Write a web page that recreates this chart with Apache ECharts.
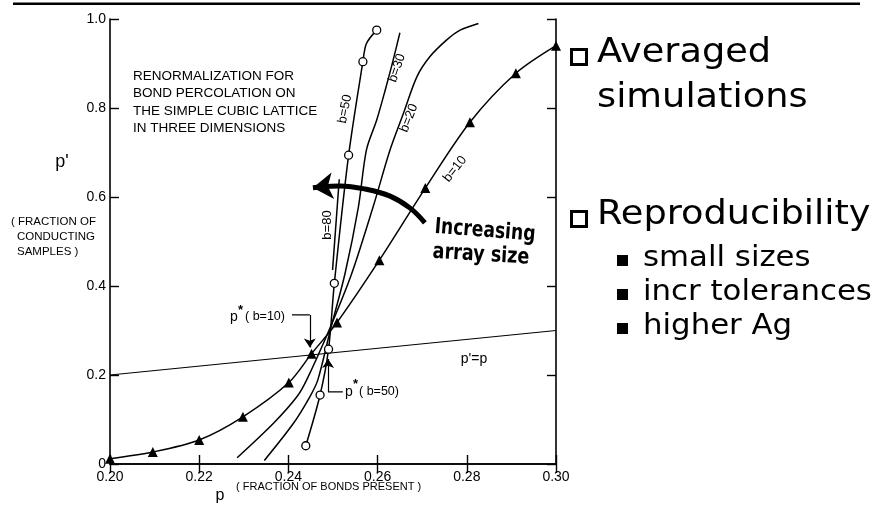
<!DOCTYPE html>
<html>
<head>
<meta charset="utf-8">
<script src="https://cdn.jsdelivr.net/npm/echarts@6/dist/echarts.min.js"></script>
<style>
  html, body { margin: 0; padding: 0; background: #fff; }
  #main { width: 883px; height: 506px; }
</style>
</head>
<body>
<div id="main"></div>
<script>
// values: [p, p']
var pEqualsP = [[0.20, 0.20], [0.30, 0.30]];
var b10 = [
  [0.200, 0.012], [0.2096, 0.027], [0.220, 0.054], [0.2298, 0.106],
  [0.2401, 0.183], [0.2452, 0.248], [0.2509, 0.318], [0.2604, 0.458],
  [0.2707, 0.620], [0.2807, 0.768], [0.2910, 0.878], [0.3000, 0.940]
];
var b50 = [
  [0.2439, 0.041], [0.2471, 0.155], [0.2490, 0.258], [0.2503, 0.406],
  [0.2535, 0.694], [0.2567, 0.904], [0.2575, 0.945], [0.2598, 0.975]
];
var b50Hidden = [6]; // bend point, no circle drawn
var b30 = [
  [0.2346, 0.008], [0.2411, 0.091], [0.2448, 0.151], [0.2466, 0.189],
  [0.2495, 0.305], [0.2527, 0.428], [0.2557, 0.578], [0.2575, 0.706],
  [0.2598, 0.773], [0.2617, 0.840], [0.2635, 0.908], [0.2650, 0.969]
];
var b20 = [
  [0.2285, 0.014], [0.2366, 0.091], [0.2419, 0.151], [0.2441, 0.189],
  [0.2493, 0.305], [0.2542, 0.428], [0.2590, 0.578], [0.2628, 0.706],
  [0.2658, 0.788], [0.2688, 0.870], [0.2717, 0.915], [0.2755, 0.953],
  [0.2785, 0.975], [0.2826, 0.990]
];
var b80 = [[0.2499, 0.436], [0.2514, 0.640]];

// annotation paths (data coords)
var sizeArrow = [[0.2706, 0.542], [0.2673, 0.575], [0.2628, 0.602], [0.2572, 0.618], [0.2516, 0.625], [0.2470, 0.6225]];
var sizeArrowTip = [0.2455, 0.621];
var leader10 = [[0.2408, 0.335], [0.2448, 0.335], [0.2448, 0.262]];
var leader50 = [[0.2522, 0.162], [0.2489, 0.162], [0.2489, 0.236]];

var xTicks = ['0.20', '0.22', '0.24', '0.26', '0.28', '0.30'];
var titleLines = ['RENORMALIZATION FOR', 'BOND PERCOLATION ON', 'THE SIMPLE CUBIC LATTICE', 'IN THREE DIMENSIONS'];
var yNameLines = ['( FRACTION OF', 'CONDUCTING', 'SAMPLES )'];
var subBullets = ['small sizes', 'incr tolerances', 'higher Ag'];

var chart = echarts.init(document.getElementById('main'));
var FONT = 'Liberation Sans, Arial, sans-serif';

function txt(x, y, text, size, o) {
  o = o || {};
  return {
    type: 'text', x: x, y: y, rotation: o.rot || 0, scaleX: o.sx || 1,
    style: {
      text: text, fontSize: size, fontFamily: o.family || FONT,
      fontWeight: o.weight || 'normal', fill: '#000',
      align: o.align || 'left', textAlign: o.align || 'left',
      verticalAlign: 'middle', textVerticalAlign: 'middle'
    }
  };
}

var graphics = [
  { type: 'rect', shape: { x: 13, y: 2.6, width: 847, height: 2.3 }, style: { fill: '#000' } },
  txt(62, 162, "p'", 18, { align: 'center' }),
  txt(220, 496, 'p', 16, { align: 'center' }),
  txt(236, 487, '( FRACTION OF BONDS PRESENT )', 11),
  txt(230, 317, 'p', 14),
  txt(238, 310, '*', 13, { weight: 'bold' }),
  txt(245, 317, '( b=10)', 12.5),
  txt(345, 392, 'p', 14),
  txt(353, 384, '*', 13, { weight: 'bold' }),
  txt(359, 392, '( b=50)', 12.5),
  txt(474, 359, "p'=p", 14, { align: 'center' }),
  txt(345, 109, 'b=50', 13, { align: 'center', rot: 1.38 }),
  txt(397, 68, 'b=30', 13, { align: 'center', rot: 1.24 }),
  txt(409, 118, 'b=20', 13, { align: 'center', rot: 1.2 }),
  txt(455, 169, 'b=10', 13, { align: 'center', rot: 0.9 }),
  txt(327, 225, 'b=80', 13, { align: 'center', rot: Math.PI / 2 }),
  txt(485, 231, 'Increasing', 22, { align: 'center', weight: 'bold', family: 'DejaVu Sans', sx: 0.78, rot: -0.08 }),
  txt(481, 255, 'array size', 22, { align: 'center', weight: 'bold', family: 'DejaVu Sans', sx: 0.8, rot: -0.06 }),
  // slide bullets
  { type: 'rect', shape: { x: 571.5, y: 49.5, width: 15, height: 15 }, style: { fill: 'none', stroke: '#000', lineWidth: 3 } },
  { type: 'rect', shape: { x: 571.5, y: 211.5, width: 15, height: 15 }, style: { fill: 'none', stroke: '#000', lineWidth: 3 } },
  txt(597, 53, 'Averaged', 34, { family: 'DejaVu Sans', sx: 1.08 }),
  txt(597, 98, 'simulations', 34, { family: 'DejaVu Sans', sx: 1.08 }),
  txt(597, 215, 'Reproducibility', 34, { family: 'DejaVu Sans', sx: 1.08 })
];
titleLines.forEach(function (t, i) { graphics.push(txt(133, 76 + i * 17.5, t, 13.5)); });
yNameLines.forEach(function (t, i) { graphics.push(txt(i === 0 ? 11 : 17, 222 + i * 15, t, 11.5)); });
subBullets.forEach(function (t, i) {
  graphics.push({ type: 'rect', shape: { x: 617, y: 255 + i * 34, width: 11, height: 11 }, style: { fill: '#000' } });
  graphics.push(txt(643, 259 + i * 34, t, 28, { family: 'DejaVu Sans', sx: 1.1 }));
});

var axisCommon = {
  axisLine: { lineStyle: { color: '#000', width: 1.6 } },
  axisTick: { inside: true, length: 9, lineStyle: { color: '#000', width: 1.4 } },
  splitLine: { show: false }
};

function curve(name, data, extra) {
  return Object.assign({
    name: name, type: 'line', data: data, smooth: 0.3, symbol: 'none',
    lineStyle: { color: '#000', width: 1.5 }, itemStyle: { color: '#000' },
    z: 3
  }, extra || {});
}

// straight segment with an arrow head at its end
function arrowSeg(from, to, width, size) {
  return {
    type: 'lines', coordinateSystem: 'cartesian2d',
    symbol: ['none', 'arrow'], symbolSize: size,
    lineStyle: { color: '#000', width: width, opacity: 1, curveness: 0 },
    data: [{ coords: [from, to] }], z: 4
  };
}

var option = {
  animation: false,
  backgroundColor: '#fff',
  grid: { left: 110, top: 19, width: 446, height: 445 },
  xAxis: [
    Object.assign({
      type: 'value', min: 0.2, max: 0.3, interval: 0.02, position: 'bottom',
      axisLabel: {
        color: '#000', fontSize: 14, fontFamily: FONT, margin: 6,
        formatter: function (v) { return xTicks[Math.round((v - 0.2) / 0.02)]; }
      }
    }, axisCommon),
    Object.assign({
      type: 'value', min: 0.2, max: 0.3, interval: 0.02, position: 'top',
      axisLabel: { show: false }
    }, axisCommon)
  ],
  yAxis: [
    Object.assign({
      type: 'value', min: 0, max: 1, interval: 0.2, position: 'left',
      axisLabel: {
        color: '#000', fontSize: 14, fontFamily: FONT, margin: 4,
        formatter: function (v) { return v === 0 ? '0' : v.toFixed(1); }
      }
    }, axisCommon),
    Object.assign({
      type: 'value', min: 0, max: 1, interval: 0.2, position: 'right',
      axisLabel: { show: false }
    }, axisCommon)
  ],
  series: [
    curve("p'=p", pEqualsP, { smooth: false, lineStyle: { color: '#000', width: 1.2 } }),
    curve('b=20', b20),
    curve('b=30', b30),
    curve('b=80', b80, { smooth: false }),
    curve('b=10', b10, { symbol: 'triangle', symbolSize: 10, showAllSymbol: true, clip: false, z: 5 }),
    curve('b=50', b50.map(function (d, i) {
      return b50Hidden.indexOf(i) >= 0 ? { value: d, symbol: 'none' } : d;
    }), {
      symbol: 'circle', symbolSize: 8, showAllSymbol: true, z: 5,
      itemStyle: { color: '#fff', borderColor: '#000', borderWidth: 1.3 }
    }),
    // "increasing array size" arrow body and head
    curve('arrow', sizeArrow, { smooth: 0.4, lineStyle: { color: '#000', width: 5 }, z: 4 }),
    arrowSeg(sizeArrow[sizeArrow.length - 1], sizeArrowTip, 5, [0, 20]),
    // p* leaders
    curve('lead10', leader10.slice(0, 2), { smooth: false, lineStyle: { color: '#000', width: 1.2 } }),
    arrowSeg(leader10[1], leader10[2], 1.2, [0, 9]),
    curve('lead50', leader50.slice(0, 2), { smooth: false, lineStyle: { color: '#000', width: 1.2 } }),
    arrowSeg(leader50[1], leader50[2], 1.2, [0, 9])
  ],
  graphic: graphics
};

chart.setOption(option);
</script>
</body>
</html>
